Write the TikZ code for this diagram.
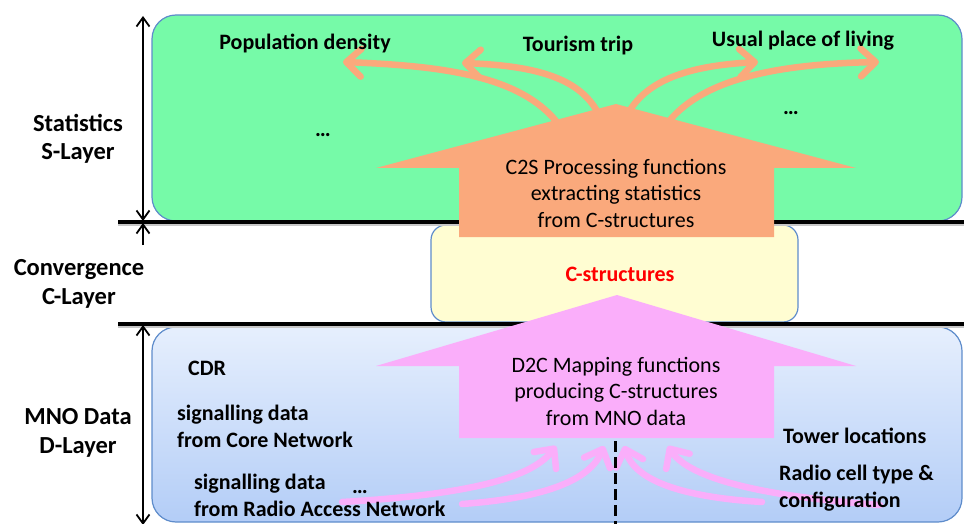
\documentclass[tikz,border=0pt]{standalone}
\usepackage{fontspec}
\setmainfont{Carlito}
\usetikzlibrary{arrows.meta}

\definecolor{slayer}{HTML}{76FAA8}
\definecolor{clayer}{HTML}{FFFDD2}
\definecolor{dtop}{HTML}{E6EFFD}
\definecolor{dbot}{HTML}{B3CDF7}
\definecolor{frame}{HTML}{5E8CCB}
\definecolor{ctos}{HTML}{FAA97C}
\definecolor{dtoc}{HTML}{FAAEFA}
\definecolor{cred}{HTML}{FF0000}

\begin{document}
\begin{tikzpicture}[x=1pt,y=-1pt,
  layerbox/.style={draw=frame, line width=1.2pt, rounded corners=24pt},
  divider/.style={line width=3.5pt},
  dividershade/.style={line width=2pt, black!22},
  rulertip/.tip={Straight Barb[length=9pt,width=13pt]},
  ruler/.style={line width=1.8pt},
  flow/.style={line width=6.5pt, line cap=round, -{Straight Barb[length=15pt,width=28pt,round]}},
  % multi-line nodes: the base anchor sits on the baseline of the last line
  sidelabel/.style={font=\fontsize{24.5}{28.5}\selectfont\bfseries, align=center, anchor=base, inner sep=0pt},
  itemlabel/.style={font=\fontsize{22}{27}\selectfont\bfseries, align=left, anchor=base west, inner sep=0pt},
  toplabel/.style={font=\fontsize{22}{27}\selectfont\bfseries, anchor=base, inner sep=0pt},
  arrowtext/.style={font=\fontsize{22}{26.3}\selectfont, align=center, anchor=base, inner sep=0pt}
]
\useasboundingbox (0,0) rectangle (964,524);

% layer boxes
\path[layerbox, fill=slayer] (152,15) rectangle (962,221);
\path[layerbox, top color=dtop, bottom color=dbot] (152,327) rectangle (962,522);
\path[layerbox, rounded corners=15pt, fill=clayer] (431,225) rectangle (798,322);

% layer dividers
\coordinate (sdiv-l) at (118,222);
\coordinate (sdiv-r) at (964,222);
\coordinate (ddiv-l) at (118,324);
\coordinate (ddiv-r) at (964,324);
\draw[dividershade] ([yshift=-3pt]sdiv-l) -- ([yshift=-3pt]sdiv-r);
\draw[dividershade] ([yshift=-3pt]ddiv-l) -- ([yshift=-3pt]ddiv-r);
\draw[divider] (sdiv-l) -- (sdiv-r);
\draw[divider] (ddiv-l) -- (ddiv-r);

% layer extents
\coordinate (rs-top) at (143,16);
\coordinate (rs-bot) at (143,221);
\coordinate (rc-top) at (143,223);
\coordinate (rc-bot) at (143,245);
\coordinate (rd-top) at (143,325);
\coordinate (rd-bot) at (143,525);
\draw[ruler, rulertip-rulertip] (rs-top) -- (rs-bot);
\draw[ruler, -rulertip] (rc-bot) -- (rc-top);
\draw[ruler, rulertip-rulertip] (rd-top) -- (rd-bot);

% C2S outputs
\coordinate (o1-s) at (556,121);
\coordinate (o1-e) at (343,62);
\coordinate (o2-s) at (597,111);
\coordinate (o2-e) at (462,63);
\coordinate (o3-s) at (630,110);
\coordinate (o3-e) at (758,62);
\coordinate (o4-s) at (670,120);
\coordinate (o4-e) at (879,62);
\draw[flow, ctos] (o1-s) .. controls (520,78) and (450,66) .. (o1-e);
\draw[flow, ctos] (o2-s) .. controls (580,82) and (545,66) .. (o2-e);
\draw[flow, ctos] (o3-s) .. controls (648,82) and (684,66) .. (o3-e);
\draw[flow, ctos] (o4-s) .. controls (706,78) and (780,64) .. (o4-e);

% C2S processing arrow
\fill[ctos] (459,237) -- (459,168) -- (376,168) -- (616,104) -- (856,168)
  -- (774,168) -- (774,237) -- cycle;
\node[arrowtext] (c2s) at (616,227)
  {C2S Processing functions\\extracting statistics\\from C-structures};

% D2C mapping arrow
\fill[dtoc] (459,438) -- (459,366) -- (376,366) -- (617,295) -- (856,366)
  -- (774,366) -- (774,438) -- cycle;
\node[arrowtext] (d2c) at (616,425)
  {D2C Mapping functions\\producing C-structures\\from MNO data};

% MNO data inputs
\coordinate (p1-s) at (342,502);
\coordinate (p1-e) at (556,446);
\coordinate (p2-s) at (462,504);
\coordinate (p2-e) at (604,446);
\coordinate (p3-s) at (762,502);
\coordinate (p3-e) at (624,446);
\coordinate (p4-s) at (880,505);
\coordinate (p4-e) at (668,446);
\draw[flow, dtoc] (p1-s) .. controls (460,495) and (530,480) .. (p1-e);
\draw[flow, dtoc] (p2-s) .. controls (545,498) and (590,480) .. (p2-e);
\draw[flow, dtoc] (p3-s) .. controls (680,497) and (635,480) .. (p3-e);
\draw[flow, dtoc] (p4-s) .. controls (770,497) and (690,480) .. (p4-e);

% split between data sources
\coordinate (split-top) at (615,441);
\coordinate (split-bot) at (615,524);
\draw[line width=3pt, dash pattern=on 11pt off 5pt] (split-top) -- (split-bot);

% C-layer content
\node[toplabel, text=cred] (cstruct) at (620,281) {C-structures};

% layer names
\node[sidelabel] (lab-s) at (78,160) {Statistics\\S-Layer};
\node[sidelabel] (lab-c) at (79,304) {Convergence\\C-Layer};
\node[sidelabel] (lab-d) at (78,453) {MNO Data\\D-Layer};

% statistics
\node[toplabel] (st-pop) at (305,50) {Population density};
\node[toplabel] (st-tour) at (578,52) {Tourism trip};
\node[toplabel] (st-home) at (803,47) {Usual place of living};
\node[toplabel] (st-more1) at (323,137) {…};
\node[toplabel] (st-more2) at (791,115) {…};

% data sources
\node[itemlabel] (src-cdr) at (188,375) {CDR};
\node[itemlabel] (src-core) at (177,447) {signalling data\\from Core Network};
\node[itemlabel] (src-ran) at (194,516) {signalling data\\from Radio Access Network};
\node[toplabel] (src-more) at (360,493) {…};
\node[itemlabel] (src-tower) at (783,443) {Tower locations};
\node[itemlabel] (src-cell) at (779,507) {Radio cell type \&\\configuration};
\end{tikzpicture}
\end{document}
